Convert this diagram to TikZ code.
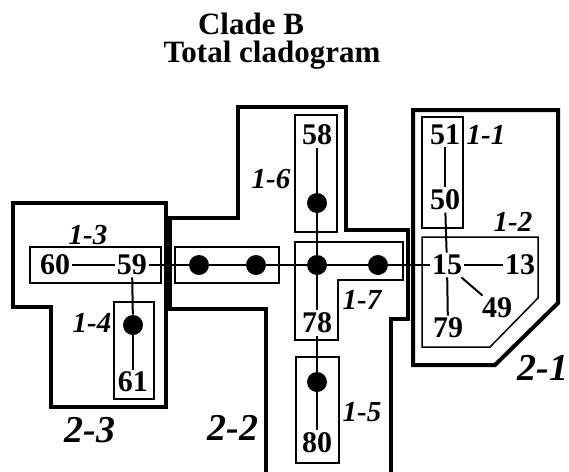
\documentclass[tikz,border=0pt]{standalone}
\usepackage{fontspec}
\setmainfont{Liberation Serif}
\usepackage{tikz}

\begin{document}
\begin{tikzpicture}[x=0.5pt, y=-0.5pt,
        taxon/.style = {inner sep=1pt, font=\fontsize{15}{15}\selectfont\bfseries},
        hap/.style = {circle, fill, minimum size=10pt, inner sep=0pt},
        onestep/.style = {line width=0.75pt},
        twostep/.style = {line width=2pt},
        lab/.style = {font=\fontsize{14.5}{15}\selectfont\bfseries\itshape},
        biglab/.style = {font=\fontsize{19}{19}\selectfont\bfseries\itshape}]
        \useasboundingbox (0,0) rectangle (569,472);
        % title
        \node[anchor=base, inner sep=0pt, align=center, font=\fontsize{15.5}{13.75}\selectfont\bfseries] (title) at (272,62)
                {Clade B\hspace*{21pt}\\Total cladogram};
        % 2-step clades
        \draw[twostep] (13,203) -- (166,203) -- (166,407) -- (51,407) -- (51,307) -- (13,307) -- cycle;
        \draw[twostep] (266,472) -- (266,309) -- (170,309) -- (170,218) -- (238,218) -- (238,107) -- (346,107)
                -- (346,230) -- (408,230) -- (408,319) -- (391,319) -- (391,472);
        \draw[twostep] (413,110) -- (558,110) -- (558,303) -- (495,365) -- (413,365) -- cycle;
        % 1-step clades
        \draw[onestep] (30,247) rectangle (161,283);
        \draw[onestep] (114,302) rectangle (154,399);
        \draw[onestep] (175,247) rectangle (279,283);
        \draw[onestep] (295,115) rectangle (337,232);
        \draw[onestep] (295,242) -- (403,242) -- (403,280) -- (338,280) -- (338,340) -- (295,340) -- cycle;
        \draw[onestep] (296,357) rectangle (339,463);
        \draw[onestep] (422,117) rectangle (463,228);
        \draw[onestep] (422,237) -- (538,237) -- (538,298) -- (490,347) -- (422,347) -- cycle;
        % haplotypes
        \node[taxon] (h60) at (55,265) {60};
        \node[taxon] (h59) at (132,265) {59};
        \node[hap] (m4) at (133,325) {};
        \node[taxon] (h61) at (133,382) {61};
        \node[hap] (m1) at (199,265) {};
        \node[hap] (m2) at (256,265) {};
        \node[hap] (mc) at (317,265) {};
        \node[hap] (m7) at (378,265) {};
        \node[hap] (m6) at (317,203) {};
        \node[taxon] (h58) at (317,135) {58};
        \node[taxon] (h78) at (317,323) {78};
        \node[hap] (m5) at (317,382) {};
        \node[taxon] (h80) at (317,443) {80};
        \node[taxon] (h15) at (447,265) {15};
        \node[taxon] (h13) at (520,265) {13};
        \node[taxon] (h49) at (497,308) {49};
        \node[taxon] (h79) at (448,328) {79};
        \node[taxon] (h50) at (445,200) {50};
        \node[taxon] (h51) at (445,135) {51};
        % connections
        \draw[line width=1pt] (h60) -- (h59);
        \draw[line width=1pt] (h59) -- (m1);
        \draw[line width=1pt] (m1) -- (m2);
        \draw[line width=1pt] (m2) -- (mc);
        \draw[line width=1pt] (mc) -- (m7);
        \draw[line width=1pt] (m7) -- (h15);
        \draw[line width=1pt] (h15) -- (h13);
        \draw[line width=1pt] (h15) -- (h49);
        \draw[line width=1pt] (h15) -- (h79);
        \draw[line width=1pt] (h51) -- (h50);
        \draw[line width=1pt] (h50) -- (h15);
        \draw[line width=1pt] (h58) -- (m6);
        \draw[line width=1pt] (m6) -- (mc);
        \draw[line width=1pt] (mc) -- (h78);
        \draw[line width=1pt] (h78) -- (m5);
        \draw[line width=1pt] (m5) -- (h80);
        \draw[line width=1pt] (h59) -- (m4);
        \draw[line width=1pt] (m4) -- (h61);
        % clade labels
        \node[lab] (c11) at (486,135) {1-1};
        \node[lab] (c12) at (513,222) {1-2};
        \node[lab] (c13) at (88,235) {1-3};
        \node[lab] (c14) at (92,323) {1-4};
        \node[lab] (c15) at (362,412) {1-5};
        \node[lab] (c16) at (271,179) {1-6};
        \node[lab] (c17) at (362,300) {1-7};
        \node[biglab] (c21) at (543,368) {2-1};
        \node[biglab] (c22) at (233,428) {2-2};
        \node[biglab] (c23) at (90,430) {2-3};
      \end{tikzpicture}
\end{document}
